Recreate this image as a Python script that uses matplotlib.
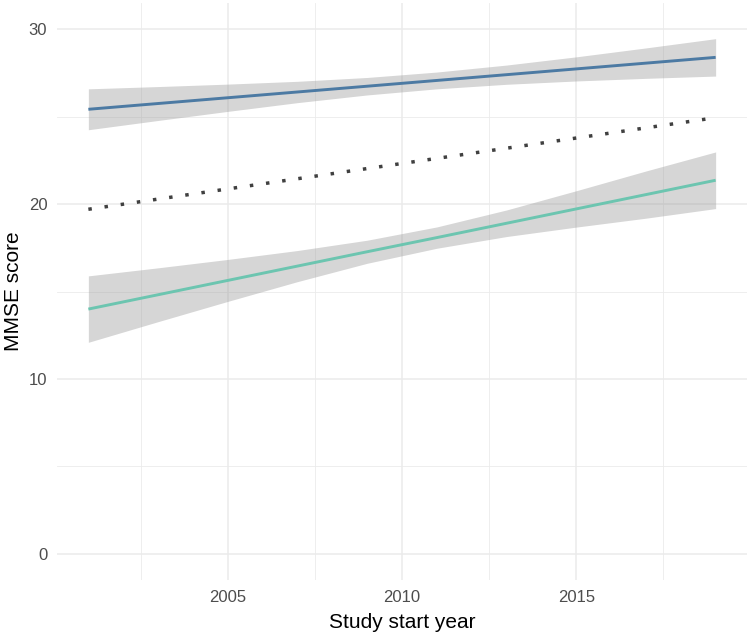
import matplotlib
matplotlib.use("Agg")
import matplotlib.pyplot as plt
from matplotlib.ticker import MultipleLocator

plt.rcParams['font.family'] = ['Liberation Sans', 'DejaVu Sans']

# values
years = [2001, 2003, 2005, 2007, 2009, 2011, 2013, 2015, 2017, 2019]

high_fit = [25.43, 25.76, 26.09, 26.42, 26.75, 27.08, 27.41, 27.74, 28.07, 28.40]
high_lo = [24.26, 24.79, 25.31, 25.81, 26.25, 26.60, 26.86, 27.05, 27.20, 27.33]
high_hi = [26.60, 26.73, 26.87, 27.03, 27.25, 27.56, 27.96, 28.43, 28.94, 29.47]

low_fit = [14.00, 14.82, 15.64, 16.46, 17.28, 18.09, 18.91, 19.73, 20.55, 21.37]
low_lo = [12.10, 13.28, 14.44, 15.57, 16.62, 17.48, 18.15, 18.69, 19.20, 19.75]
low_hi = [15.90, 16.36, 16.84, 17.35, 17.94, 18.70, 19.67, 20.77, 21.90, 22.99]

ref_years = [2001, 2019]
ref_score = [19.71, 24.95]

fig = plt.figure(figsize=(7.5, 6.36), dpi=100)
ax = fig.add_axes([0.076, 0.088, 0.920, 0.907])

ribbon = dict(color="#999999", alpha=0.4, linewidth=0)
ax.fill_between(years, high_lo, high_hi, **ribbon)
ax.fill_between(years, low_lo, low_hi, **ribbon)
ax.plot(years, high_fit, color="#4C7AA3", linewidth=2.1, solid_capstyle="butt")
ax.plot(years, low_fit, color="#6CC5B0", linewidth=2.1, solid_capstyle="butt")
ax.plot(ref_years, ref_score, color="#404040", linewidth=2.5,
        linestyle=(0, (1, 3.7)), dash_capstyle="butt")

ax.set_xlim(2000.1, 2019.9)
ax.set_ylim(-1.5, 31.5)
ax.xaxis.set_minor_locator(MultipleLocator(2.5))
ax.yaxis.set_major_locator(MultipleLocator(10))
ax.yaxis.set_minor_locator(MultipleLocator(5))
ax.set_xticks([2005, 2010, 2015])

ax.grid(which="major", color="#EBEBEB", linewidth=1.1)
ax.grid(which="minor", color="#EBEBEB", linewidth=0.6)
ax.set_axisbelow(True)
for s in ax.spines.values():
    s.set_visible(False)

ax.tick_params(which="both", length=0)
ax.tick_params(axis="x", labelsize=12, labelcolor="#4D4D4D", pad=7)
ax.tick_params(axis="y", labelsize=12, labelcolor="#4D4D4D", pad=7)

ax.set_xlabel("Study start year", fontsize=15, labelpad=6)
ax.set_ylabel("MMSE score", fontsize=15)
ax.yaxis.set_label_coords(-0.049, 0.5)

fig.savefig("out.png", dpi=100)
